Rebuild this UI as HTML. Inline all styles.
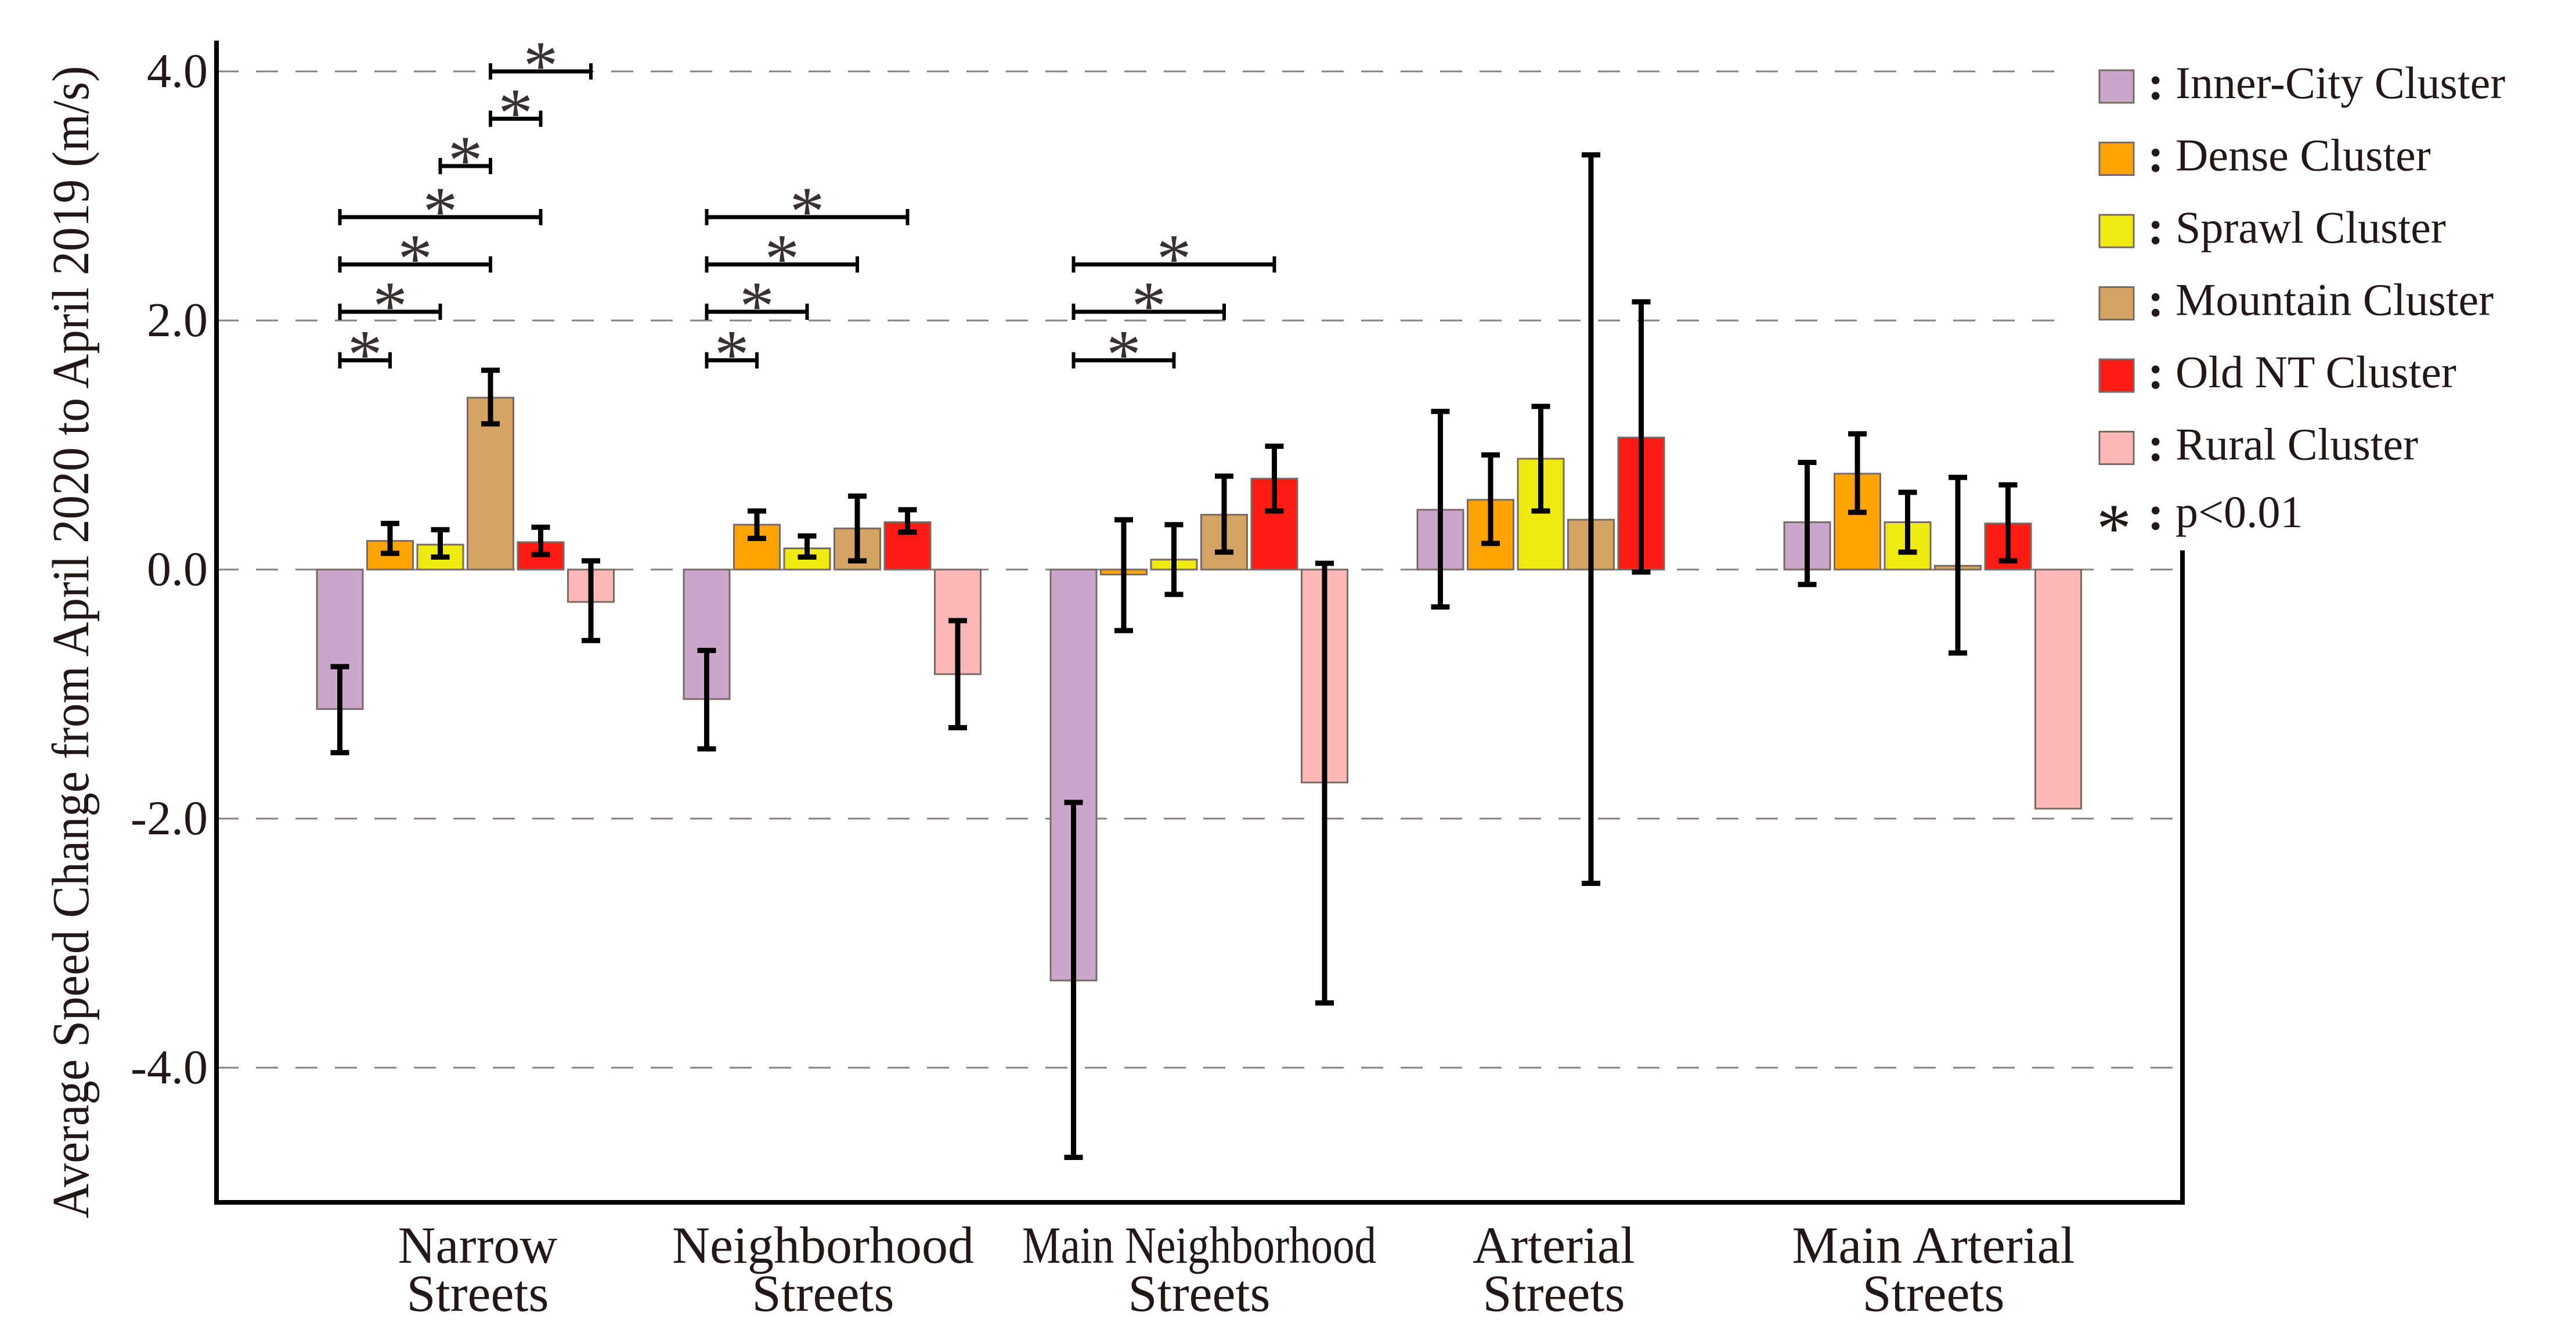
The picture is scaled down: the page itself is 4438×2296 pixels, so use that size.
<!DOCTYPE html>
<html><head><meta charset="utf-8"><style>
html,body{margin:0;padding:0;background:#fff;}
text{font-family:'Liberation Serif','DejaVu Serif','Times New Roman',Times,serif;}
</style></head><body>
<svg id="chart" width="4438" height="2291" viewBox="0 0 4438 2291" xmlns="http://www.w3.org/2000/svg">
<g id="grid"></g>
<g id="bars"></g>
<g id="errs"></g>
<g id="sig"></g>
<g id="axes"></g>
<g id="legend"></g>
</svg>
<script>
const categories = ["Narrow|Streets","Neighborhood|Streets","Main Neighborhood|Streets","Arterial|Streets","Main Arterial|Streets"];
const seriesNames = ["Inner-City Cluster","Dense Cluster","Sprawl Cluster","Mountain Cluster","Old NT Cluster","Rural Cluster"];
const seriesColors = ["#caa6cb","#ffa400","#f0ea10","#d4a562","#ff1a12","#ffb8b8"];
const innerCity = [-1.12,-1.04,-3.30,0.48,0.38];
const dense = [0.23,0.36,-0.04,0.56,0.77];
const sprawl = [0.20,0.17,0.08,0.89,0.38];
const mountain = [1.38,0.33,0.44,0.40,0.03];
const oldNT = [0.22,0.38,0.73,1.06,0.37];
const rural = [-0.26,-0.84,-1.71,null,-1.92];
const innerCityErr = [[-1.47,-0.78],[-1.44,-0.65],[-4.72,-1.87],[-0.30,1.27],[-0.12,0.86]];
const denseErr = [[0.13,0.37],[0.25,0.47],[-0.49,0.40],[0.21,0.92],[0.46,1.09]];
const sprawlErr = [[0.10,0.32],[0.10,0.27],[-0.20,0.36],[0.47,1.31],[0.14,0.62]];
const mountainErr = [[1.17,1.60],[0.07,0.59],[0.14,0.75],[-2.52,3.33],[-0.67,0.74]];
const oldNTErr = [[0.12,0.34],[0.30,0.48],[0.47,0.99],[-0.02,2.15],[0.07,0.68]];
const ruralErr = [[-0.57,0.07],[-1.27,-0.41],[-3.48,0.05],null,null];
const sigCat = [0,0,0,0,0,0,0,1,1,1,1,2,2,2];
const sigA = [0,0,0,0,2,3,3,0,0,0,0,0,0,0];
const sigB = [1,2,3,4,3,4,5,1,2,3,4,2,3,4];
const sigY = [1.68,2.07,2.45,2.83,3.24,3.62,4.0,1.68,2.07,2.45,2.83,1.68,2.07,2.45];
const yTicks = [4.0,2.0,0.0,-2.0,-4.0];
const yTickLabels = ["4.0","2.0","0.0","-2.0","-4.0"];

const values = [innerCity,dense,sprawl,mountain,oldNT,rural];
const errs = [innerCityErr,denseErr,sprawlErr,mountainErr,oldNTErr,ruralErr];
const NS="http://www.w3.org/2000/svg";
const X0=373, YTOP=70, YBOT=2071, XR=3760;
function y(v){return 981 - v*214.5;}
const groupLeft=546, groupStep=632, barStep=86.5, barW=79;
function xBar(c,s){return groupLeft + c*groupStep + s*barStep;}
function xc(c,s){return xBar(c,s)+barW/2;}
function mk(tag,attrs,parent){const e=document.createElementNS(NS,tag);if(tag==='text')e.setAttribute('style',"font-family:'Liberation Serif','DejaVu Serif',serif");for(const k in attrs)e.setAttribute(k,attrs[k]);parent.appendChild(e);return e;}
const G=id=>document.getElementById(id);

yTicks.forEach((t,i)=>{
  const end = t>=2 ? 3540 : XR;
  const l=mk('line',{x1:X0,x2:end,y1:y(t),y2:y(t),stroke:'#8a8080','stroke-width':3,'stroke-dasharray':'38 30'},G('grid'));
  
  
  const tx=mk('text',{x:358,y:y(t)+27,'text-anchor':'end','font-size':84,fill:'#231815'},G('axes'));
  tx.textContent=yTickLabels[i];
  
  
});

values.forEach((arr,s)=>{arr.forEach((v,c)=>{
  if(v===null)return;
  const top=Math.min(y(v),y(0)), h=Math.abs(y(v)-y(0));
  const r=mk('rect',{x:xBar(c,s),y:top,width:barW,height:Math.max(h,4),fill:seriesColors[s],stroke:'#7a6a66','stroke-width':3},G('bars'));
  
  
});});

errs.forEach((arr,s)=>{arr.forEach((e,c)=>{
  if(!e)return;
  const x=xc(c,s);
  const g=mk('g',{stroke:'#000','stroke-width':9},G('errs'));
  
  
  mk('line',{x1:x,x2:x,y1:y(e[0]),y2:y(e[1])},g);
  mk('line',{x1:x-16,x2:x+16,y1:y(e[0]),y2:y(e[0])},g);
  mk('line',{x1:x-16,x2:x+16,y1:y(e[1]),y2:y(e[1])},g);
});});

sigY.forEach((v,i)=>{
  const xa=xc(sigCat[i],sigA[i]), xb=xc(sigCat[i],sigB[i]), yy=y(v);
  const g=mk('g',{},G('sig'));
  
  
  mk('line',{x1:xa,x2:xb,y1:yy,y2:yy,stroke:'#000','stroke-width':7},g);
  mk('line',{x1:xa,x2:xa,y1:yy-14,y2:yy+14,stroke:'#000','stroke-width':6},g);
  mk('line',{x1:xb,x2:xb,y1:yy-14,y2:yy+14,stroke:'#000','stroke-width':6},g);
  const t=mk('text',{x:(xa+xb)/2,y:yy+30,'text-anchor':'middle','font-size':120,fill:'#3a3030'},g);
  t.textContent='*';
});

const ax=mk('path',{d:`M${X0},${YTOP} L${X0},${YBOT} L${XR},${YBOT} L${XR},948`,fill:'none',stroke:'#000','stroke-width':8},G('axes'));


const labelX=[823,1418,2066,2677,3331];
categories.forEach((c,i)=>{
  const parts=c.split('|');
  parts.forEach((p,j)=>{
    const attrs={x:labelX[i],y:2175+j*83,'text-anchor':'middle','font-size':90,fill:'#231815'};
    if(p==="Main Neighborhood"){attrs.textLength=610;attrs.lengthAdjust='spacingAndGlyphs';}
    const t=mk('text',attrs,G('axes'));
    t.textContent=p;
    
    
  });
});
const yt=mk('text',{x:0,y:0,transform:'translate(152,1106) rotate(-90)','text-anchor':'middle','font-size':90,fill:'#231815',textLength:1985,lengthAdjust:'spacingAndGlyphs'},G('axes'));
yt.textContent='Average Speed Change from April 2020 to April 2019 (m/s)';



seriesNames.forEach((n,i)=>{
  const yy=121+i*124.5;
  const g=mk('g',{},G('legend'));
  
  
  mk('rect',{x:3617,y:yy,width:59,height:56,fill:seriesColors[i],stroke:'#7a6a66','stroke-width':3},g);
  const c=mk('text',{x:3700,y:yy+50,'font-size':84,'font-weight':'bold',fill:'#231815'},g);c.textContent=':';
  const t=mk('text',{x:3748,y:yy+48,'font-size':78,fill:'#231815'},g);t.textContent=n;
});
const gp=mk('g',{},G('legend'));


const s1=mk('text',{x:3612,y:950,'font-size':120,fill:'#231815'},gp);s1.textContent='*';
const s2=mk('text',{x:3700,y:912,'font-size':84,'font-weight':'bold',fill:'#231815'},gp);s2.textContent=':';
const s3=mk('text',{x:3748,y:908,'font-size':78,fill:'#231815'},gp);s3.textContent='p<0.01';
</script>
</body></html>
